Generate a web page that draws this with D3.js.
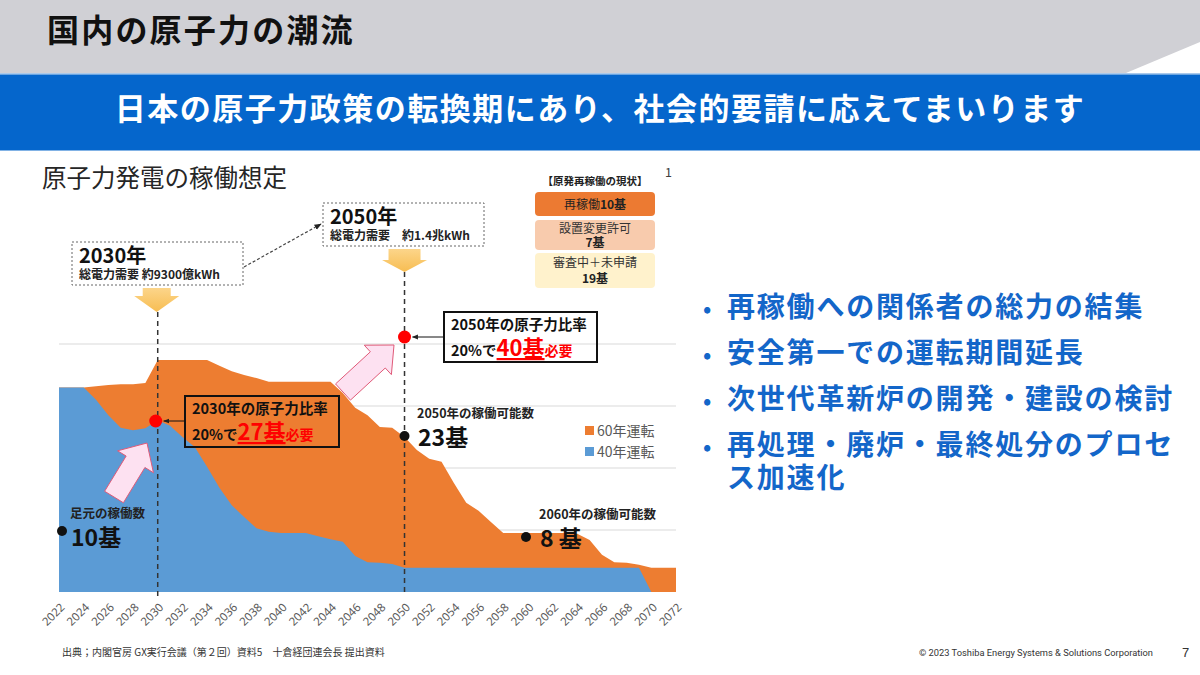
<!DOCTYPE html>
<html><head><meta charset="utf-8">
<script src="https://cdn.jsdelivr.net/npm/d3@7"></script>
<style>
html,body{margin:0;padding:0;background:#fff;}
svg{display:block;font-family:"Noto Sans CJK JP","Noto Sans",sans-serif;}
</style></head>
<body><svg id="c" width="1200" height="675"></svg>
<script>
// ---------- data ----------
const years = [2022,2023,2024,2025,2026,2027,2028,2029,2030,2031,2032,2033,2034,2035,2036,2037,2038,2039,2040,2041,2042,2043,2044,2045,2046,2047,2048,2049,2050,2051,2052,2053,2054,2055,2056,2057,2058,2059,2060,2061,2062,2063,2064,2065,2066,2067,2068,2069,2070,2071,2072];
// 60年運転 (reactor count if 60-year operation)
const op60 = [33,33,33,33.2,33.4,33.5,33.5,33.7,37.4,37.4,37.4,37.4,37.4,36.5,35.6,35,34.5,33.9,33.9,33.9,33.9,33.9,33.9,32.1,29.7,28.5,26.6,26.5,25,22.9,21.5,21,17.6,14.4,13.1,11.3,9.5,9.5,9.5,9.5,9.5,9.5,9.4,8.4,6,4.8,4.7,4.4,3.9,3.9,3.9];
// 40年運転 (reactor count if 40-year operation)
const op40 = [33,33,33,31,28.5,26.5,26.1,26.4,27.7,26.8,25,23.4,20.2,16.8,14,12.1,10.3,9.7,9.5,9.5,9.5,9,8.5,8.1,5.8,4.8,4.7,4.5,3.9,3.9,3.9,3.9,3.9,3.9,3.9,3.9,3.9,3.9,3.9,3.9,3.9,3.9,3.9,3.9,3.9,3.9,3.9,3.9,0,0,0];
const tickYears = [2022,2024,2026,2028,2030,2032,2034,2036,2038,2040,2042,2044,2046,2048,2050,2052,2054,2056,2058,2060,2062,2064,2066,2068,2070,2072];
const gridValues = [10,20,30,40];
const seriesNames = ["60年運転","40年運転"];
const seriesColors = ["#ed7d31","#5b9bd5"];
const bullets = [["再稼働への関係者の総力の結集"],["安全第一での運転期間延長"],["次世代革新炉の開発・建設の検討"],["再処理・廃炉・最終処分のプロセ","ス加速化"]];
const statusRows = [["再稼働","10基"],["設置変更許可","7基"],["審査中＋未申請","19基"]];

// ---------- setup ----------
const svg = d3.select("#c");
const x = d3.scaleLinear().domain([2022,2072]).range([59,676]);
const y = d3.scaleLinear().domain([0,40]).range([592,344]);

// header bands
svg.append("rect").attr("x",0).attr("y",0).attr("width",1200).attr("height",73).attr("fill","#d0d0d5");
svg.append("polygon").attr("points","1126,73 1200,42 1200,73").attr("fill","#ffffff");
svg.append("rect").attr("x",0).attr("y",73).attr("width",1200).attr("height",1.5).attr("fill","#a9c9ec");
svg.append("rect").attr("x",0).attr("y",74.5).attr("width",1200).attr("height",76).attr("fill","#0566cc");
svg.append("text").attr("x",47).attr("y",42).attr("font-size",32).attr("font-weight",700).attr("fill","#111").attr("letter-spacing",2.2).text("国内の原子力の潮流");
svg.append("text").attr("x",600).attr("y",120).attr("text-anchor","middle").attr("font-size",31).attr("font-weight",700).attr("fill","#fff").attr("letter-spacing",1.5).text("日本の原子力政策の転換期にあり、社会的要請に応えてまいります");

// chart title
svg.append("text").attr("x",42).attr("y",187).attr("font-size",24.5).attr("fill","#262626").text("原子力発電の稼働想定");

// gridlines
svg.append("g").selectAll("line").data(gridValues).join("line")
  .attr("x1",x(2022)).attr("x2",x(2072)).attr("y1",d=>y(d)).attr("y2",d=>y(d))
  .attr("stroke","#d9d9d9").attr("stroke-width",1);

// areas
const area = d3.area().x((d,i)=>x(years[i])).y0(y(0)).y1(d=>y(d));
svg.append("path").datum(op60).attr("d",area).attr("fill",seriesColors[0]);
svg.append("path").datum(op40).attr("d",area).attr("fill",seriesColors[1]);

// x axis
const ax = svg.append("g").attr("transform",`translate(0,${y(0)})`)
  .call(d3.axisBottom(x).tickValues(tickYears).tickFormat(d3.format("d")).tickSize(0));
ax.select(".domain").remove();
ax.selectAll("text").attr("fill","#595959").attr("font-size",11.5).attr("font-family","Noto Sans, sans-serif")
  .attr("text-anchor","end").attr("dy",0).attr("y",0).attr("transform","translate(6,16) rotate(-45)");

// legend
const lg = svg.append("g");
seriesNames.forEach((n,i)=>{
  lg.append("rect").attr("x",585).attr("y",426+i*21).attr("width",9).attr("height",9).attr("fill",seriesColors[i]);
  lg.append("text").attr("x",597).attr("y",436+i*21).attr("font-size",14).attr("fill","#595959").text(n);
});

// defs
const defs = svg.append("defs");
defs.append("marker").attr("id","ah").attr("viewBox","0 0 10 10").attr("refX",9).attr("refY",5)
  .attr("markerWidth",6).attr("markerHeight",6).attr("orient","auto")
  .append("path").attr("d","M0,1 L10,5 L0,9 z").attr("fill","#222");
const yg = defs.append("linearGradient").attr("id","yg").attr("x1",0).attr("y1",0).attr("x2",0).attr("y2",1);
yg.append("stop").attr("offset","0%").attr("stop-color","#fcd58a");
yg.append("stop").attr("offset","100%").attr("stop-color","#f7bd52");

function blockArrow(tail, tip, sw, hw, hl){
  const dx=tip[0]-tail[0], dy=tip[1]-tail[1], L=Math.hypot(dx,dy);
  const ux=dx/L, uy=dy/L, nx=-uy, ny=ux;
  const nk=[tip[0]-ux*hl, tip[1]-uy*hl];
  return [[tail[0]+nx*sw/2,tail[1]+ny*sw/2],[nk[0]+nx*sw/2,nk[1]+ny*sw/2],[nk[0]+nx*hw/2,nk[1]+ny*hw/2],tip,
          [nk[0]-nx*hw/2,nk[1]-ny*hw/2],[nk[0]-nx*sw/2,nk[1]-ny*sw/2],[tail[0]-nx*sw/2,tail[1]-ny*sw/2]].map(p=>p.join(",")).join(" ");
}

// vertical dashed lines
const x30 = x(2030), x50 = x(2050);
svg.append("line").attr("x1",x30).attr("x2",x30).attr("y1",312).attr("y2",y(0)+4).attr("stroke","#333").attr("stroke-width",1.5).attr("stroke-dasharray","5,4");
svg.append("line").attr("x1",x50).attr("x2",x50).attr("y1",272).attr("y2",y(0)+4).attr("stroke","#333").attr("stroke-width",1.5).attr("stroke-dasharray","5,4");

// yellow arrows
svg.append("polygon").attr("points",blockArrow([x30-1,288],[x30-1,312],28,45,16)).attr("fill","url(#yg)");
svg.append("polygon").attr("points",blockArrow([x50,249],[x50,272],32,45,12)).attr("fill","url(#yg)");

// year boxes
function yearBox(bx,by,w,h,title,sub){
  svg.append("rect").attr("x",bx).attr("y",by).attr("width",w).attr("height",h).attr("fill","#fff")
    .attr("stroke","#666").attr("stroke-width",1).attr("stroke-dasharray","2,2");
  svg.append("text").attr("x",bx+7).attr("y",by+21).attr("font-size",20).attr("font-weight",700).attr("fill","#111").text(title);
  svg.append("text").attr("x",bx+7).attr("y",by+37).attr("font-size",12).attr("font-weight",700).attr("fill","#222").text(sub);
}
yearBox(72,242,171,43,"2030年","総電力需要 約9300億kWh");
yearBox(323,203,161,43,"2050年","総電力需要　約1.4兆kWh");
svg.append("line").attr("x1",244).attr("y1",267).attr("x2",321).attr("y2",224).attr("stroke","#444").attr("stroke-width",1.2).attr("stroke-dasharray","3,2").attr("marker-end","url(#ah)");

// status boxes
svg.append("text").attr("x",595).attr("y",185).attr("text-anchor","middle").attr("font-size",10.5).attr("font-weight",700).attr("fill","#222").text("【原発再稼働の現状】");
svg.append("text").attr("x",665).attr("y",177).attr("font-size",12.5).attr("fill","#404040").text("1");
const sb = [[192,24,"#ec7a32"],[220,30,"#f8cbad"],[253,35,"#fff2cc"]];
sb.forEach((b,i)=>{
  svg.append("rect").attr("x",535).attr("y",b[0]).attr("width",120).attr("height",b[1]).attr("rx",4).attr("fill",b[2]);
});
svg.append("text").attr("x",595).attr("y",209).attr("text-anchor","middle").attr("font-size",12).attr("fill","#222")
  .call(t=>{t.append("tspan").text(statusRows[0][0]);t.append("tspan").attr("font-weight",700).text(statusRows[0][1]);});
[1,2].forEach(i=>{
  const b=sb[i];
  svg.append("text").attr("x",595).attr("y",b[0]+12.5+(i==2?1:0)).attr("text-anchor","middle").attr("font-size",12).attr("fill","#333").text(statusRows[i][0]);
  svg.append("text").attr("x",595).attr("y",b[0]+27+(i==2?3:0)).attr("text-anchor","middle").attr("font-size",12).attr("font-weight",700).attr("fill","#222").text(statusRows[i][1]);
});

// pink arrows
svg.append("polygon").attr("points",blockArrow([114,497],[147,443],22,42,22)).attr("fill","#fde1f1").attr("stroke","#e05a78").attr("stroke-width",1);
svg.append("polygon").attr("points",blockArrow([343,392],[394,345],22,40,22)).attr("fill","#fde1f1").attr("stroke","#e05a78").attr("stroke-width",1);

// callout boxes
function callout(bx,by,w,h,title,num,dotX,dotY){
  svg.append("rect").attr("x",bx).attr("y",by).attr("width",w).attr("height",h).attr("fill","none").attr("stroke","#111").attr("stroke-width",2);
  svg.append("text").attr("x",bx+7).attr("y",by+18).attr("font-size",14.5).attr("font-weight",700).attr("fill","#111").text(title);
  const t = svg.append("text").attr("x",bx+7).attr("y",by+44).attr("font-weight",700);
  t.append("tspan").attr("font-size",14.5).attr("fill","#111").text("20%で");
  t.append("tspan").attr("font-size",22).attr("fill","#ff0000").attr("text-decoration","underline").text(num);
  t.append("tspan").attr("font-size",14).attr("fill","#ff0000").text("必要");
  svg.append("line").attr("x1",bx).attr("y1",dotY).attr("x2",dotX+8).attr("y2",dotY).attr("stroke","#111").attr("stroke-width",1).attr("marker-end","url(#ah)");
  svg.append("circle").attr("cx",dotX).attr("cy",dotY).attr("r",6.5).attr("fill","#ff0000");
}
callout(185,396,154,51,"2030年の原子力比率","27基",x30-2,421);
callout(444,312,153,50,"2050年の原子力比率","40基",x50,337);

// count annotations
function countLabel(dx,dy,lx,ly,cap,num){
  svg.append("circle").attr("cx",dx).attr("cy",dy).attr("r",5).attr("fill","#111");
  if(cap) svg.append("text").attr("x",lx).attr("y",ly).attr("font-size",12.5).attr("font-weight",700).attr("fill","#222").text(cap);
  svg.append("text").attr("x",lx+1).attr("y",ly+28).attr("font-size",23).attr("font-weight",700).attr("fill","#111").text(num);
}
countLabel(62,531,70,518,"足元の稼働数","10基");
countLabel(x50,436,417,418,"2050年の稼働可能数","23基");
countLabel(526,537,539,519,"2060年の稼働可能数","8 基");

// bullets
bullets.forEach((lines,i)=>{
  const yy = 317 + i*46;
  svg.append("text").attr("x",703).attr("y",yy).attr("font-size",22).attr("font-weight",700).attr("fill","#1366c9").text("•");
  lines.forEach((ln,j)=>{
    svg.append("text").attr("x",727).attr("y",yy+j*33).attr("font-size",28).attr("font-weight",700).attr("fill","#1366c9").attr("letter-spacing",1.8).text(ln);
  });
});

// footer
svg.append("text").attr("x",62).attr("y",656).attr("font-size",10).attr("fill","#333").text("出典；内閣官房 GX実行会議（第２回）資料5　十倉経団連会長 提出資料");
svg.append("text").attr("x",1153).attr("y",656).attr("text-anchor","end").attr("font-size",9.3).attr("font-family","Liberation Sans Narrow, Roboto, sans-serif").attr("fill","#333").text("© 2023 Toshiba Energy Systems & Solutions Corporation");
svg.append("text").attr("x",1182).attr("y",657).attr("font-size",13).attr("font-family","Liberation Sans, sans-serif").attr("fill","#333").text("7");
</script></body></html>
